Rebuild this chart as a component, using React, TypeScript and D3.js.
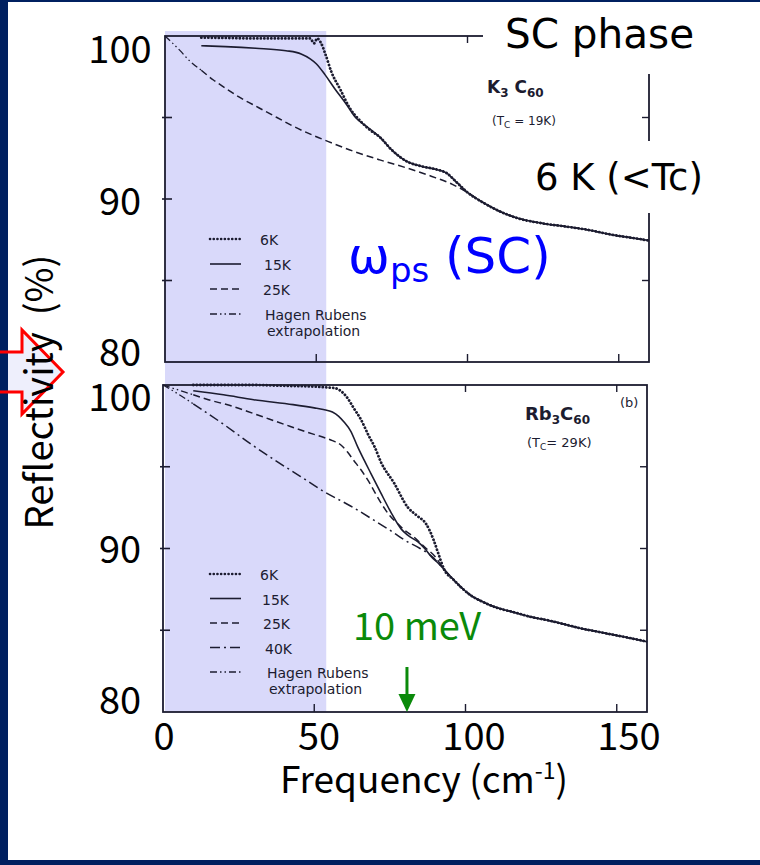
import React from "react";
import * as d3 from "d3";

type P = [number, number];

// ---------- axis / ticks ----------
const xTickValues = [0, 50, 100, 150];
const yLabelValues = [100, 90, 80];
const yMinorTicks = [95, 90, 85];
const xDomain: [number, number] = [0, 160];
const yDomain: [number, number] = [80, 100];
const scSpan: [number, number] = [0, 53.3]; // shaded superconducting-gap region (cm-1)
const meV10 = 80.65; // 10 meV in cm-1

// ---------- K3C60 (top panel) ----------
const k3Tail: P[] = [
  [71, 93.8], [75, 93.0], [80, 92.3], [85, 92.0], [90, 91.8], [93, 91.6], [96, 91.1],
  [100, 90.4], [105, 89.8], [110, 89.3], [117, 88.8], [125, 88.5], [133, 88.3],
  [140, 88.1], [148, 87.8], [155, 87.6], [160, 87.45],
];
const k3_6K: P[] = [
  [12, 99.9], [20, 99.88], [30, 99.85], [40, 99.85], [48, 99.85], [49.3, 99.55], [50.3, 99.85],
  [51.5, 99.6], [53, 98.9], [55, 97.8], [58, 96.7], [61, 95.6], [64.5, 94.8], [68, 94.2],
];
const k3_15K: P[] = [
  [12, 99.4], [20, 99.35], [30, 99.25], [40, 99.1], [45, 98.9], [48, 98.6], [50, 98.3],
  [53, 97.6], [56, 96.8], [60, 95.8], [63, 95.0], [67, 94.4],
];
const k3_25K: P[] = [
  [12, 97.9], [16, 97.3], [20, 96.8], [25, 96.2], [31, 95.6], [37, 95.0], [42, 94.5],
  [49, 93.9], [55, 93.45], [62, 92.95], [71, 92.4], [80, 91.9], [88, 91.4], [95, 90.9], [100, 90.4],
];
const k3_HR: P[] = [[0, 100], [2, 99.65], [5, 99.1], [8, 98.5], [12, 97.9]];

// ---------- Rb3C60 (bottom panel) ----------
const rbTail: P[] = [
  [93, 88.7], [96, 88.1], [98.7, 87.6], [102, 87.1], [105, 86.8], [110, 86.4], [116, 86.1],
  [122, 85.8], [127.5, 85.6], [133, 85.35], [138.5, 85.1], [144, 84.9], [149.5, 84.7],
  [155, 84.5], [160, 84.3],
];
const rb_6K: P[] = [
  [10, 100], [20, 100], [30, 100], [40, 99.95], [50, 99.9], [57, 99.8], [59, 99.6], [61, 99.2],
  [63, 98.6], [65.4, 97.9], [68, 96.9], [70, 96.2], [72, 95.3], [76.4, 94.0], [81, 92.5],
  [84, 92.0], [87, 91.5], [89.5, 90.5], [91, 89.7],
];
const rb_15K: P[] = [
  [10, 99.65], [20, 99.4], [30, 99.1], [43, 98.8], [50, 98.6], [53, 98.5], [56, 98.35],
  [58, 98.1], [60, 97.7], [62, 97.2], [64.4, 96.2], [66.5, 95.4], [68.7, 94.6], [72, 93.4],
  [75.4, 92.2], [78.7, 91.2], [81, 90.8], [84.3, 90.4], [86.5, 90.0], [88.7, 89.5], [91, 89.1],
];
const rb_25K: P[] = [
  [10, 99.4], [15, 99.1], [23, 98.7], [30, 98.25], [40, 97.6], [47, 97.15], [53, 96.8],
  [56, 96.6], [59, 96.3], [61, 95.9], [63, 95.4], [65.5, 94.8], [68, 94.1], [72, 92.8],
  [75, 92.0], [77.7, 91.5], [80, 91.1], [83, 90.7], [86.4, 90.1], [90, 89.5],
];
const rb_40K: P[] = [
  [10, 98.85], [20, 97.6], [29, 96.4], [37, 95.4], [45.5, 94.4], [53, 93.5], [62, 92.6],
  [70, 91.7], [76, 91.0], [80, 90.5], [85, 90.0], [89, 89.5],
];
const rb_HR25: P[] = [[0, 100], [5, 99.7], [10, 99.4]];
const rb_HR40: P[] = [[0, 100], [5, 99.45], [10, 98.85]];

// ---------- legends ----------
const topLegend = ["6K", "15K", "25K", "HR"];
const bottomLegend = ["6K", "15K", "25K", "40K", "HR"];
const legendText: Record<string, string> = {
  "6K": "6K",
  "15K": "15K",
  "25K": "25K",
  "40K": "40K",
  HR: "Hagen Rubens",
};

// ---------- styles ----------
const INK = "#1c1c30";
const lineStyle: Record<string, { dash?: string; w: number; cap?: string }> = {
  "6K": { dash: "0.1 3.4", w: 2.8, cap: "round" },
  "15K": { w: 1.6 },
  "25K": { dash: "7 4", w: 1.5 },
  "40K": { dash: "10 4 2 4", w: 1.5 },
  HR: { dash: "7 3 1.5 3 1.5 3", w: 1.3 },
};

const NAVY = "#002060";
const AXIS_FONT = "'Noto Sans CJK JP', 'Noto Sans', sans-serif";
const ANNOT_FONT = "'DejaVu Sans', Verdana, sans-serif";

function Series({ data, k, line }: { data: P[]; k: string; line: d3.Line<P> }) {
  const s = lineStyle[k];
  return (
    <path
      d={line(data) || ""}
      fill="none"
      stroke={INK}
      strokeWidth={s.w}
      strokeDasharray={s.dash}
      strokeLinecap={(s.cap as any) || "butt"}
      strokeLinejoin="round"
    />
  );
}

export default function App() {
  // scales
  const xT = d3.scaleLinear().domain(xDomain).range([165, 649]);
  const yT = d3.scaleLinear().domain(yDomain).range([362, 36]);
  const xB = d3.scaleLinear().domain(xDomain).range([163, 647]);
  const yB = d3.scaleLinear().domain(yDomain).range([712, 385]);
  // slide-overlay label positions (not exactly on the scanned axes)
  const yLabT = d3.scaleLinear().domain(yDomain).range([353, 50]);
  const yLabB = d3.scaleLinear().domain(yDomain).range([701, 398]);
  const xLab = d3.scaleLinear().domain(xDomain).range([164, 660]);

  const lineT = d3.line<P>().x((d) => xT(d[0])).y((d) => yT(d[1])).curve(d3.curveMonotoneX);
  const lineB = d3.line<P>().x((d) => xB(d[0])).y((d) => yB(d[1])).curve(d3.curveMonotoneX);

  const frame = (
    x: d3.ScaleLinear<number, number>,
    y: d3.ScaleLinear<number, number>,
    rightTicks: number[],
    bottomTicks: number[],
    topTicks: number[]
  ) => {
    const x0 = x(0), x1 = x(160), y0 = y(80), y1 = y(100);
    return (
      <g stroke={INK} fill="none">
        <rect x={x0} y={y1} width={x1 - x0} height={y0 - y1} strokeWidth={1.8} />
        {yMinorTicks.map((v) => (
          <line key={"l" + v} x1={x0 - 3} x2={x0 + 7} y1={y(v)} y2={y(v)} strokeWidth={1.6} />
        ))}
        {rightTicks.map((v) => (
          <line key={"r" + v} x1={x1 - 7} x2={x1} y1={y(v)} y2={y(v)} strokeWidth={1.4} />
        ))}
        {bottomTicks.map((v) => (
          <line key={"b" + v} x1={x(v)} x2={x(v)} y1={y0 - 8} y2={y0} strokeWidth={1.4} />
        ))}
        {topTicks.map((v) => (
          <line key={"t" + v} x1={x(v)} x2={x(v)} y1={y1} y2={y1 + 7} strokeWidth={1.4} />
        ))}
      </g>
    );
  };

  const legend = (keys: string[], x0: number, yStart: number, dy: number, textX: number[]) => (
    <g>
      {keys.map((k, i) => {
        const s = lineStyle[k];
        const yy = yStart + i * dy;
        return (
          <g key={k}>
            <line
              x1={x0}
              x2={x0 + 31}
              y1={yy}
              y2={yy}
              stroke={INK}
              strokeWidth={k === "6K" ? 2.6 : s.w}
              strokeDasharray={k === "6K" ? "0.1 3.6" : s.dash}
              strokeLinecap={(s.cap as any) || "butt"}
            />
            <text x={textX[i]} y={yy + 6} fontFamily={ANNOT_FONT} fontSize={14} fill={INK}>
              {legendText[k]}
            </text>
            {k === "HR" && (
              <text x={textX[i] + 2} y={yy + 22} fontFamily={ANNOT_FONT} fontSize={14} fill={INK}>
                extrapolation
              </text>
            )}
          </g>
        );
      })}
    </g>
  );

  const arrowX = xB(meV10);

  return (
    <svg
      width={760}
      height={865}
      style={{ position: "absolute", left: 0, top: 0, display: "block", background: "#fff" }}
    >
      <rect x={0} y={0} width={760} height={865} fill="#fff" />

      {/* shaded SC gap region */}
      <rect
        x={xT(scSpan[0])}
        y={31}
        width={xT(scSpan[1]) - xT(scSpan[0])}
        height={yB(80) - 31}
        fill="#d9d9fa"
      />

      {/* frames */}
      {frame(xT, yT, [95, 85], [50, 100, 150], [100, 150])}
      {frame(xB, yB, [95, 90, 85], [50, 100, 150], [100, 150])}

      {/* top panel curves */}
      <Series data={k3_HR} k="HR" line={lineT} />
      <Series data={k3_25K.concat(k3Tail.filter((d) => d[0] > 100))} k="25K" line={lineT} />
      <Series data={k3_15K.concat(k3Tail)} k="15K" line={lineT} />
      <Series data={k3_6K.concat(k3Tail)} k="6K" line={lineT} />

      {/* bottom panel curves */}
      <Series data={rb_HR25} k="HR" line={lineB} />
      <Series data={rb_HR40} k="HR" line={lineB} />
      <Series data={rb_40K.concat(rbTail)} k="40K" line={lineB} />
      <Series data={rb_25K.concat(rbTail)} k="25K" line={lineB} />
      <Series data={rb_15K.concat(rbTail)} k="15K" line={lineB} />
      <Series data={rb_6K.concat(rbTail)} k="6K" line={lineB} />

      {/* legends */}
      {legend(topLegend, 210, 239, 25, [260, 264, 263, 265])}
      {legend(bottomLegend, 210, 574, 24.5, [260, 262, 263, 265, 267])}

      {/* panel annotations */}
      <text x={487} y={93} fontFamily={ANNOT_FONT} fontSize={17} fontWeight={600} fill={INK}>
        K<tspan fontSize={12} dy={4}>3</tspan>
        <tspan dy={-4}> C</tspan>
        <tspan fontSize={12} dy={4}>60</tspan>
      </text>
      <text x={492} y={125} fontFamily={ANNOT_FONT} fontSize={12} fill={INK}>
        (T<tspan fontSize={9} dy={3}>C</tspan>
        <tspan dy={-3}> = 19K)</tspan>
      </text>
      <text x={525} y={420} fontFamily={ANNOT_FONT} fontSize={18} fontWeight={600} fill={INK}>
        Rb<tspan fontSize={12} dy={4}>3</tspan>
        <tspan dy={-4}>C</tspan>
        <tspan fontSize={12} dy={4}>60</tspan>
      </text>
      <text x={527} y={447} fontFamily={ANNOT_FONT} fontSize={13} fill={INK}>
        (T<tspan fontSize={9} dy={3}>C</tspan>
        <tspan dy={-3}>= 29K)</tspan>
      </text>
      <text x={620} y={407} fontFamily={ANNOT_FONT} fontSize={13} fill={INK}>
        (b)
      </text>

      {/* white boxes behind slide text */}
      <rect x={483} y={3} width={277} height={71} fill="#fff" />
      <rect x={524} y={141} width={196} height={72} fill="#fff" />

      {/* slide overlay texts */}
      <text x={505} y={48} fontFamily={ANNOT_FONT} fontSize={40.5} fill="#000">
        SC phase
      </text>
      <text x={535} y={190} fontFamily={ANNOT_FONT} fontSize={37} fill="#000">
        6 K (&lt;Tc)
      </text>
      <text x={348} y={273} fontFamily={ANNOT_FONT} fontSize={50} fill="#0000ff">
        ω<tspan fontSize={34} dy={9}>ps</tspan>
        <tspan dy={-9}> (SC)</tspan>
      </text>
      <text x={417} y={640} textAnchor="middle" fontFamily={AXIS_FONT} fontSize={38} fill="#0a8a0a">
        10 meV
      </text>
      {/* green arrow at 10 meV */}
      <line x1={arrowX} x2={arrowX} y1={667} y2={697} stroke="#0a8a0a" strokeWidth={3} />
      <path
        d={`M${arrowX - 8.5},${694} L${arrowX + 8.5},${694} L${arrowX},${yB(80)} Z`}
        fill="#0a8a0a"
      />

      {/* tick labels */}
      {yLabelValues.map((v) => (
        <text key={"yt" + v} x={120} y={yLabT(v) + 13} textAnchor="middle" fontFamily={AXIS_FONT} fontSize={38} fill="#000">
          {v}
        </text>
      ))}
      {yLabelValues.map((v) => (
        <text key={"yb" + v} x={120} y={yLabB(v) + 13} textAnchor="middle" fontFamily={AXIS_FONT} fontSize={38} fill="#000">
          {v}
        </text>
      ))}
      {xTickValues.map((v) => (
        <text key={"x" + v} x={xLab(v)} y={750} textAnchor="middle" fontFamily={AXIS_FONT} fontSize={38} fill="#000">
          {v}
        </text>
      ))}
      <text x={424} y={793} textAnchor="middle" fontFamily={AXIS_FONT} fontSize={37} fill="#000">
        Frequency (cm<tspan fontSize={23} dy={-14}>-1</tspan>
        <tspan dy={14}>)</tspan>
      </text>

      {/* red block arrow (fill) */}
      <path d="M0,352 L22,352 L22,330 L63,372 L22,414 L22,392 L0,392 Z" fill="#eeeffc" />

      {/* navy slide border */}
      <rect x={0} y={0} width={8} height={865} fill={NAVY} />
      <rect x={0} y={0} width={760} height={2} fill={NAVY} />
      <rect x={0} y={860} width={760} height={5} fill={NAVY} />

      {/* red block arrow (outline) */}
      <path
        d="M0,352 L22,352 L22,330 L63,372 L22,414 L22,392 L0,392"
        fill="none"
        stroke="#ff0000"
        strokeWidth={3}
        strokeLinejoin="miter"
      />

      {/* y axis title */}
      <text
        transform="translate(53,392) rotate(-90)"
        textAnchor="middle"
        fontFamily={AXIS_FONT}
        fontSize={38}
        fill="#000"
      >
        {"Reflectivity\u00a0\u00a0(%)"}
      </text>
    </svg>
  );
}
